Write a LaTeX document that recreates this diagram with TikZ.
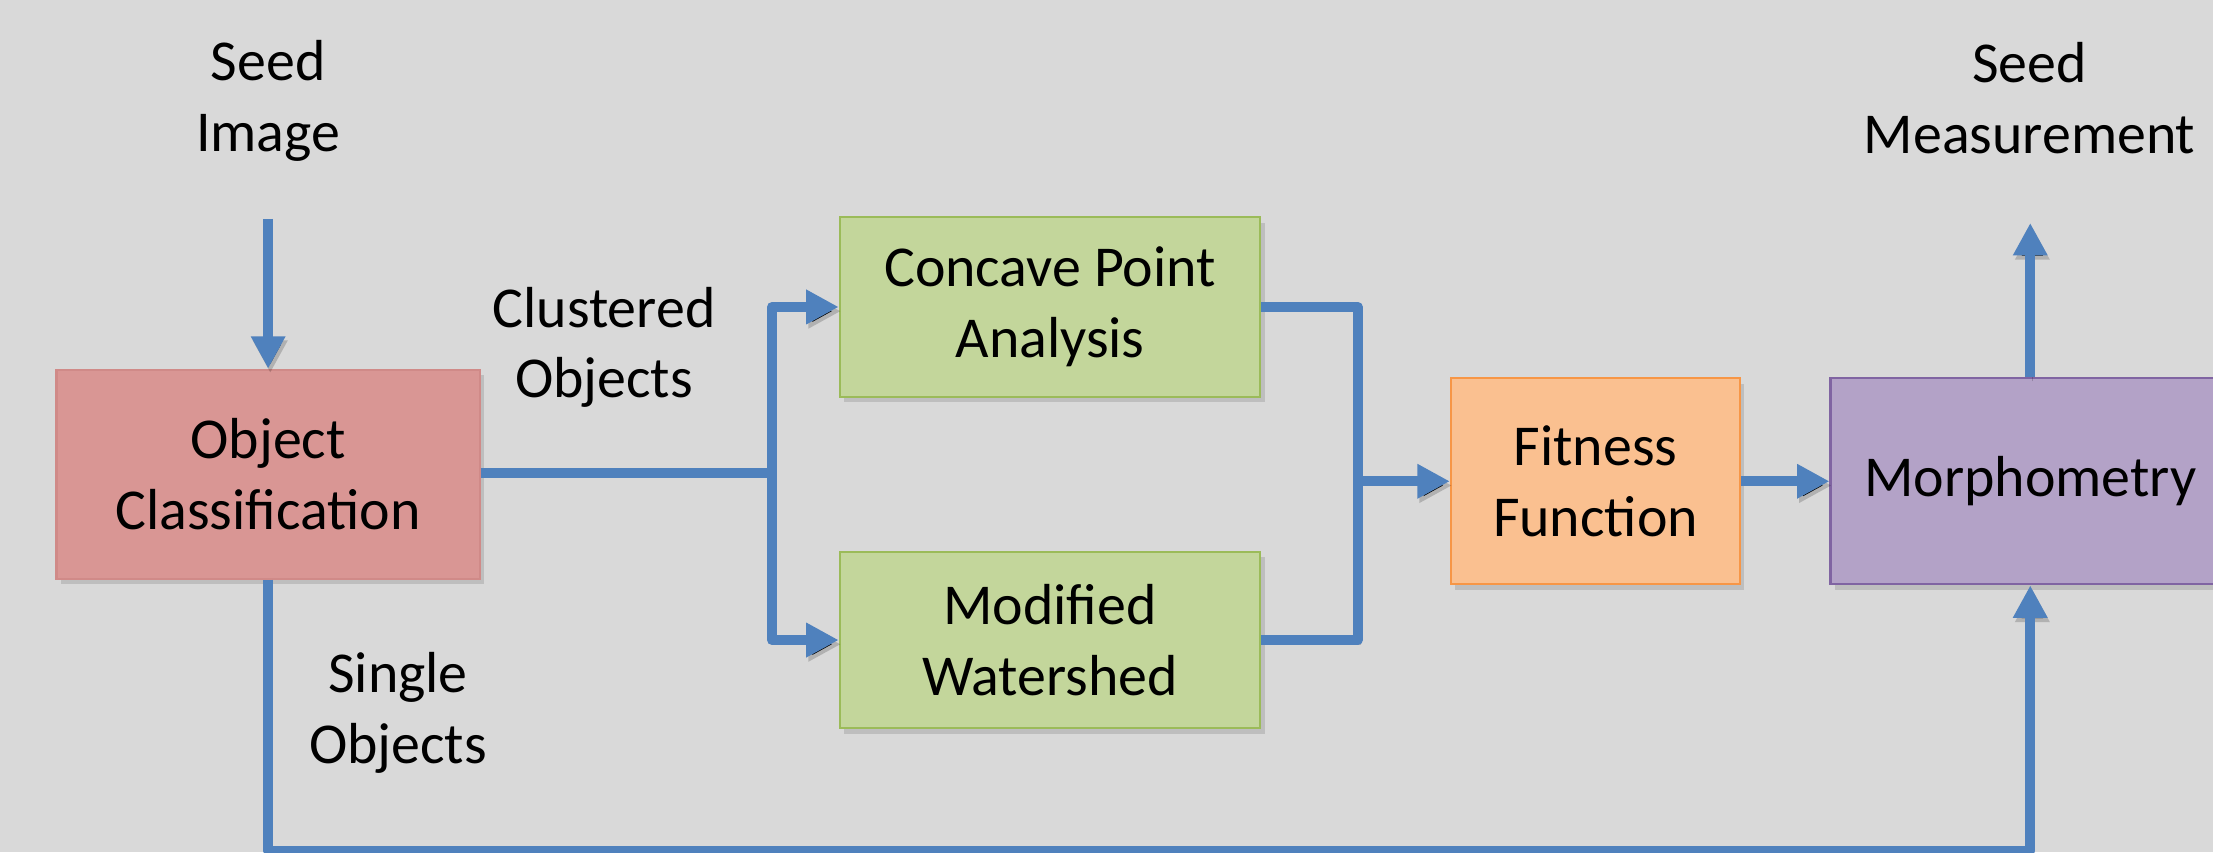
\documentclass[tikz,border=0pt]{standalone}
\usepackage{fontspec}
\setmainfont{Carlito}
\usetikzlibrary{arrows.meta,shadows}
\definecolor{bg}{HTML}{D9D9D9}
\definecolor{ln}{HTML}{4F81BD}
\definecolor{redf}{HTML}{D99694}
\definecolor{redd}{HTML}{D08A88}
\definecolor{grf}{HTML}{C3D69B}
\definecolor{grd}{HTML}{9BBB59}
\definecolor{orf}{HTML}{FAC090}
\definecolor{ord}{HTML}{F79646}
\definecolor{puf}{HTML}{B3A2C7}
\definecolor{pud}{HTML}{8064A2}
\tikzset{
  box/.style={rectangle, inner sep=0pt, align=center, line width=1.5pt,
    font=\fontsize{41}{50}\selectfont,
    drop shadow={opacity=0.3, shadow xshift=3pt, shadow yshift=-4pt}},
  lbl/.style={align=center, font=\fontsize{41}{50}\selectfont},
  conn/.style={draw=ln, line width=7.1pt, line join=round,
    preaction={draw=black, draw opacity=0.18, transform canvas={shift={(1.5pt,-3pt)}}}},
  arr/.style={conn, -{Triangle[width=23pt,length=23pt]}}
}
\begin{document}
\begin{tikzpicture}[x=1pt,y=-1pt]
\fill[bg] (0,0) rectangle (1568,604);
\clip (0,0) rectangle (1568,604);
% boxes
\node[box, fill=redf, draw=redd, minimum width=300pt, minimum height=148pt] (OC) at (190,336) {Object\\Classification};
\node[box, fill=grf, draw=grd, minimum width=298pt, minimum height=127pt] (CPA) at (744,217.5) {Concave Point\\Analysis};
\node[box, fill=grf, draw=grd, minimum width=298pt, minimum height=125pt] (MW) at (744,453.5) {Modified\\Watershed};
\node[box, fill=orf, draw=ord, minimum width=205pt, minimum height=146pt] (FF) at (1130.5,341) {Fitness\\Function};
\node[box, fill=puf, draw=pud, minimum width=283pt, minimum height=146pt] (MO) at (1438.5,341) {Morphometry};
% labels
\node[lbl] (SI) at (190,71.5) {Seed\\Image};
\node[lbl] (SM) at (1438,69.5) {Seed\\Measurement};
\node[lbl] (CO) at (428,246) {Clustered\\Objects};
\node[lbl] (SO) at (282,505) {Single\\Objects};
% coordinates
\coordinate (inTop) at (190,155);
\coordinate (split) at (547,335);
\coordinate (merge) at (962,341);
\coordinate (outTop) at (1438.5,158);
\coordinate (bl) at (190,603);
% connectors
\draw[arr] (inTop) -- (OC.north);
\draw[conn] (OC.east |- split) -- (split);
\draw[arr] (split) |- (CPA.west);
\draw[arr] (split) |- (MW.west);
\draw[conn] (CPA.east) -| (merge);
\draw[conn] (MW.east) -| (merge);
\draw[arr] (merge) -- (FF.west);
\draw[arr] (FF.east) -- (MO.west);
\draw[arr] (MO.north) -- (outTop);
\draw[arr] (OC.south) -- (bl) -| (MO.south);
\end{tikzpicture}
\end{document}
